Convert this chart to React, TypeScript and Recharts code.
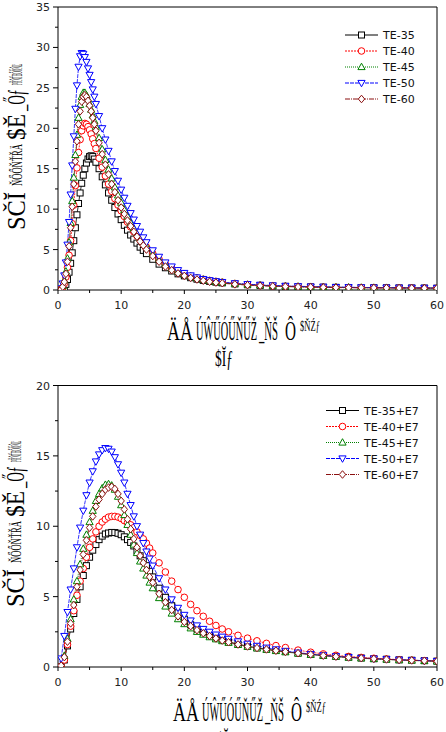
import React from 'react';
import { LineChart, Line, XAxis, YAxis, ReferenceLine } from 'recharts';

// upper panel: shared x grid and one series per sample
const TOP_X = [
  0, 0.25, 0.5, 0.75, 1, 1.25, 1.5, 1.75, 2, 2.25, 2.5, 2.75, 3, 3.25, 3.5, 3.75, 4, 4.25, 4.5, 4.75, 5, 5.25, 5.5, 5.75, 6,
  6.5, 7, 7.5, 8, 8.5, 9, 9.5, 10, 10.5, 11, 11.5, 12, 12.5, 13, 13.5, 14,
  15, 16, 17, 18, 19, 20, 21, 22, 23, 24, 25, 26,
  28, 30, 32, 34, 36, 38, 40, 42, 44, 46, 48, 50, 52, 54, 56, 58, 60,
];
const TE35 = [
  0, 0, 0, 0.1, 0.3, 0.7, 1.3, 2.2, 3.3, 4.6, 6.1, 7.7, 9.3, 10.7, 12.0, 13.2, 14.2, 15.0, 15.7, 16.2, 16.5, 16.6, 16.5, 16.2, 15.8,
  15.0, 14.0, 13.0, 12.0, 11.1, 10.2, 9.4, 8.7, 8.0, 7.4, 6.8, 6.3, 5.8, 5.3, 4.9, 4.5,
  3.8, 3.2, 2.75, 2.35, 2.0, 1.75, 1.52, 1.34, 1.19, 1.07, 0.97, 0.88,
  0.75, 0.65, 0.57, 0.5, 0.45, 0.41, 0.38, 0.35, 0.33, 0.31, 0.29, 0.28, 0.27, 0.26, 0.25, 0.24, 0.23,
];
const TE40 = [
  0, 0, 0.1, 0.3, 0.8, 1.6, 2.8, 4.3, 6.1, 8.2, 10.5, 12.9, 15.1, 17.0, 18.6, 19.7, 20.3, 20.6, 20.5, 20.2, 19.8, 19.3, 18.7, 18.1, 17.5,
  16.3, 15.2, 14.1, 13.1, 12.2, 11.3, 10.5, 9.8, 9.1, 8.4, 7.8, 7.2, 6.7, 6.2, 5.7, 5.3,
  4.5, 3.8, 3.2, 2.7, 2.3, 1.95, 1.7, 1.5, 1.32, 1.18, 1.06, 0.96,
  0.8, 0.68, 0.59, 0.52, 0.47, 0.43, 0.39, 0.36, 0.33, 0.31, 0.3, 0.28, 0.27, 0.26, 0.25, 0.24, 0.23,
];
const TE45 = [
  0, 0, 0.1, 0.5, 1.2, 2.3, 3.9, 5.9, 8.3, 11.0, 13.9, 16.7, 19.2, 21.3, 22.9, 23.9, 24.4, 24.4, 24.1, 23.6, 23.0, 22.3, 21.6, 20.9, 20.2,
  18.8, 17.4, 16.1, 14.9, 13.8, 12.7, 11.7, 10.8, 9.9, 9.1, 8.3, 7.6, 7.0, 6.4, 5.9, 5.4,
  4.5, 3.8, 3.2, 2.7, 2.3, 1.95, 1.7, 1.48, 1.3, 1.15, 1.03, 0.93,
  0.78, 0.67, 0.58, 0.52, 0.47, 0.43, 0.4, 0.37, 0.34, 0.32, 0.3, 0.29, 0.28, 0.27, 0.26, 0.25, 0.24,
];
const TE50 = [
  0, 0, 0.2, 0.8, 1.8, 3.4, 5.6, 8.4, 11.8, 15.4, 19.0, 22.4, 25.3, 27.6, 28.9, 29.3, 29.2, 28.8, 28.2, 27.4, 26.6, 25.7, 24.8, 23.9, 23.0,
  21.5, 20.0, 18.6, 17.2, 15.9, 14.7, 13.5, 12.4, 11.4, 10.4, 9.5, 8.7, 7.9, 7.2, 6.5, 5.9,
  4.9, 4.1, 3.4, 2.9, 2.45, 2.1, 1.8, 1.55, 1.35, 1.2, 1.08, 0.98,
  0.83, 0.72, 0.63, 0.56, 0.5, 0.46, 0.42, 0.39, 0.36, 0.34, 0.32, 0.3, 0.29, 0.28, 0.27, 0.26, 0.25,
];
const TE60 = [
  0, 0, 0.1, 0.4, 1.0, 2.0, 3.5, 5.4, 7.7, 10.3, 13.1, 15.9, 18.4, 20.5, 22.1, 23.3, 23.9, 24.1, 23.9, 23.4, 22.8, 22.1, 21.3, 20.5, 19.7,
  18.2, 16.8, 15.5, 14.3, 13.1, 12.1, 11.1, 10.2, 9.4, 8.6, 7.9, 7.2, 6.6, 6.0, 5.5, 5.0,
  4.2, 3.5, 2.9, 2.45, 2.05, 1.75, 1.5, 1.3, 1.15, 1.02, 0.92, 0.84,
  0.7, 0.6, 0.52, 0.46, 0.42, 0.38, 0.35, 0.32, 0.3, 0.28, 0.27, 0.26, 0.25, 0.24, 0.23, 0.22, 0.21,
];

// lower panel (+E7 samples)
const BOT_X = [
  0, 0.5, 1, 1.5, 2, 2.5, 3, 3.5, 4, 4.5, 5, 5.5, 6, 6.5, 7, 7.5, 8, 8.5, 9, 9.5, 10, 10.5, 11, 11.5, 12, 12.5, 13, 13.5, 14, 14.5, 15,
  16, 17, 18, 19, 20, 21, 22, 23, 24, 25, 26, 27,
  28.5, 30, 31.5, 33, 34.5, 36, 38, 40, 42, 44, 46, 48, 50, 52, 54, 56, 58, 60,
];
const TE35_E7 = [
  0, 0, 0.5, 1.5, 2.7, 3.8, 4.8, 5.7, 6.5, 7.2, 7.8, 8.3, 8.7, 9.05, 9.3, 9.45, 9.52, 9.56, 9.55, 9.5, 9.4, 9.25, 9.05, 8.85, 8.6, 8.25, 7.9, 7.55, 7.2, 6.8, 6.4,
  5.6, 4.95, 4.35, 3.85, 3.4, 3.0, 2.7, 2.45, 2.25, 2.07, 1.92, 1.79,
  1.62, 1.48, 1.36, 1.26, 1.17, 1.09, 0.99, 0.9, 0.82, 0.75, 0.69, 0.64, 0.59, 0.55, 0.51, 0.48, 0.45, 0.42,
];
const TE40_E7 = [
  0, 0, 0.5, 1.6, 2.9, 4.0, 5.1, 6.1, 7.0, 7.8, 8.5, 9.1, 9.6, 10.0, 10.3, 10.5, 10.65, 10.7, 10.7, 10.65, 10.55, 10.4, 10.25, 10.1, 9.9, 9.6, 9.35, 9.1, 8.8, 8.45, 8.1,
  7.4, 6.75, 6.1, 5.5, 4.95, 4.45, 4.0, 3.6, 3.25, 2.95, 2.7, 2.5,
  2.25, 2.05, 1.86, 1.68, 1.52, 1.38, 1.2, 1.05, 0.93, 0.83, 0.75, 0.68, 0.62, 0.57, 0.52, 0.48, 0.45, 0.42,
];
const TE45_E7 = [
  0, 0.1, 0.8, 2.0, 3.4, 4.8, 6.1, 7.3, 8.4, 9.4, 10.3, 11.1, 11.8, 12.3, 12.7, 12.95, 13.0, 12.9, 12.6, 12.1, 11.5, 10.8, 10.1, 9.4, 8.7, 8.1, 7.5, 7.0, 6.5, 6.0, 5.6,
  4.9, 4.3, 3.8, 3.4, 3.05, 2.75, 2.5, 2.3, 2.12, 1.97, 1.84, 1.72,
  1.57, 1.44, 1.33, 1.23, 1.14, 1.06, 0.96, 0.87, 0.8, 0.73, 0.67, 0.62, 0.57, 0.53, 0.49, 0.46, 0.43, 0.4,
];
const TE50_E7 = [
  0, 0.6, 2.2, 3.9, 5.5, 7.0, 8.5, 9.9, 11.1, 12.2, 13.1, 13.9, 14.6, 15.1, 15.4, 15.55, 15.5, 15.3, 14.9, 14.4, 13.8, 13.1, 12.3, 11.5, 10.7, 10.0, 9.4, 8.8, 8.2, 7.7, 7.2,
  6.3, 5.5, 4.8, 4.2, 3.7, 3.3, 2.95, 2.7, 2.5, 2.3, 2.15, 2.0,
  1.82, 1.65, 1.5, 1.37, 1.25, 1.14, 1.02, 0.92, 0.83, 0.76, 0.7, 0.64, 0.59, 0.55, 0.51, 0.48, 0.45, 0.42,
];
const TE60_E7 = [
  0, 0.1, 0.7, 1.8, 3.1, 4.4, 5.7, 6.9, 8.0, 9.0, 9.9, 10.7, 11.4, 11.9, 12.3, 12.6, 12.75, 12.8, 12.65, 12.3, 11.8, 11.2, 10.5, 9.8, 9.1, 8.5, 7.9, 7.4, 6.9, 6.4, 6.0,
  5.2, 4.6, 4.05, 3.6, 3.2, 2.9, 2.62, 2.4, 2.2, 2.03, 1.88, 1.76,
  1.6, 1.46, 1.35, 1.25, 1.16, 1.08, 0.98, 0.89, 0.81, 0.74, 0.68, 0.63, 0.58, 0.54, 0.5, 0.47, 0.44, 0.41,
];

const TOP_NAMES = ['TE-35', 'TE-40', 'TE-45', 'TE-50', 'TE-60'];
const BOT_NAMES = ['TE-35+E7', 'TE-40+E7', 'TE-45+E7', 'TE-50+E7', 'TE-60+E7'];

const X_TICKS = [0, 5, 10, 15, 20, 25, 30, 35, 40, 45, 50, 55, 60];
const TOP_Y_TICKS = [0, 2.5, 5, 7.5, 10, 12.5, 15, 17.5, 20, 22.5, 25, 27.5, 30, 32.5, 35];
const BOT_Y_TICKS = [0, 2.5, 5, 7.5, 10, 12.5, 15, 17.5, 20];

type Shape = 'square' | 'circle' | 'up' | 'down' | 'diamond';
const STYLES: { color: string; dash?: string; shape: Shape }[] = [
  { color: '#000000', shape: 'square' },
  { color: '#ff0000', dash: '2 1', shape: 'circle' },
  { color: '#008000', dash: '1 1', shape: 'up' },
  { color: '#0000ff', dash: '4 1', shape: 'down' },
  { color: '#8b1010', dash: '5 1 1 1', shape: 'diamond' },
];

const TICK_FONT = '"DejaVu Sans", sans-serif';
const TITLE_FONT = '"Liberation Serif", serif';

const buildRows = (xs: number[], series: number[][]) =>
  xs.map((x, i) => {
    const row: Record<string, number> = { x };
    series.forEach((s, k) => {
      row[`s${k}`] = s[i];
    });
    return row;
  });

const TOP_ROWS = buildRows(TOP_X, [TE35, TE40, TE45, TE50, TE60]);
const BOT_ROWS = buildRows(BOT_X, [TE35_E7, TE40_E7, TE45_E7, TE50_E7, TE60_E7]);

function Marker({ shape, cx, cy, color }: { shape: Shape; cx: number; cy: number; color: string }) {
  const common = { fill: '#fff', stroke: color, strokeWidth: 1 };
  switch (shape) {
    case 'square':
      return <rect x={cx - 3} y={cy - 3} width={6} height={6} {...common} />;
    case 'circle':
      return <circle cx={cx} cy={cy} r={3.3} {...common} />;
    case 'up':
      return <polygon points={`${cx},${cy - 3.8} ${cx + 3.6},${cy + 2.6} ${cx - 3.6},${cy + 2.6}`} {...common} />;
    case 'down':
      return <polygon points={`${cx},${cy + 3.8} ${cx + 3.6},${cy - 2.6} ${cx - 3.6},${cy - 2.6}`} {...common} />;
    default:
      return <polygon points={`${cx},${cy - 3.8} ${cx + 3.2},${cy} ${cx},${cy + 3.8} ${cx - 3.2},${cy}`} {...common} />;
  }
}

const LeftTick = (p: any) => {
  const v = p.payload.value;
  const major = v % 5 === 0;
  return (
    <g>
      <line x1={p.x} y1={p.y} x2={p.x - (major ? 5 : 3)} y2={p.y} stroke="#000" />
      {major && (
        <text x={p.x - 8} y={p.y + 4} textAnchor="end" fontSize={11} fill="#222" fontFamily={TICK_FONT}>
          {v}
        </text>
      )}
    </g>
  );
};

const RightTick = (p: any) => {
  const major = p.payload.value % 5 === 0;
  return <line x1={p.x} y1={p.y} x2={p.x - (major ? 4 : 3)} y2={p.y} stroke="#000" />;
};

const BottomTick = (p: any) => {
  const v = p.payload.value;
  const major = v % 10 === 0;
  return (
    <g>
      <line x1={p.x} y1={p.y} x2={p.x} y2={p.y + (major ? 4 : 3)} stroke="#000" />
      {major && (
        <text x={p.x} y={p.y + 19} textAnchor="middle" fontSize={11} fill="#222" fontFamily={TICK_FONT}>
          {v}
        </text>
      )}
    </g>
  );
};

function Panel({ rows, yMax, yTicks, top, height, marginTop, xHeight }: {
  rows: Record<string, number>[];
  yMax: number;
  yTicks: number[];
  top: number;
  height: number;
  marginTop: number;
  xHeight: number;
}) {
  return (
    <div style={{ position: 'absolute', left: 0, top, width: 446, height }}>
      <LineChart width={446} height={height} data={rows} margin={{ top: marginTop, right: 8, bottom: 0, left: 0 }}>
        <XAxis
          dataKey="x"
          type="number"
          domain={[0, 60]}
          ticks={X_TICKS}
          interval={0}
          height={xHeight}
          tickSize={0}
          tickMargin={0}
          tickLine={false}
          axisLine={{ stroke: '#000' }}
          tick={(p: any) => <BottomTick {...p} />}
          allowDataOverflow
        />
        <YAxis
          yAxisId="l"
          type="number"
          domain={[0, yMax]}
          ticks={yTicks}
          interval={0}
          width={58}
          tickSize={0}
          tickMargin={0}
          tickLine={false}
          axisLine={{ stroke: '#000' }}
          tick={(p: any) => <LeftTick {...p} />}
          allowDataOverflow
        />
        <YAxis
          yAxisId="r"
          orientation="right"
          type="number"
          domain={[0, yMax]}
          ticks={yTicks}
          interval={0}
          width={1}
          tickSize={0}
          tickMargin={0}
          tickLine={false}
          axisLine={{ stroke: '#000' }}
          tick={(p: any) => <RightTick {...p} />}
        />
        <ReferenceLine yAxisId="l" y={yMax} stroke="#000" />
        {STYLES.map((st, k) => (
          <Line
            key={k}
            yAxisId="l"
            type="linear"
            dataKey={`s${k}`}
            stroke={st.color}
            strokeWidth={0.8}
            strokeDasharray={st.dash}
            dot={(p: any) =>
              p.cx == null ? <g key={p.index} /> : <Marker key={p.index} shape={st.shape} cx={p.cx} cy={p.cy} color={st.color} />
            }
            activeDot={false}
            isAnimationActive={false}
          />
        ))}
      </LineChart>
    </div>
  );
}

function Legend({ names, top, x0 }: { names: string[]; top: number; x0: number }) {
  return (
    <g>
      {names.map((n, k) => {
        const y = top + k * 16;
        const st = STYLES[k];
        return (
          <g key={n}>
            <line x1={x0} y1={y} x2={x0 + 33} y2={y} stroke={st.color} strokeWidth={1} strokeDasharray={st.dash} />
            <Marker shape={st.shape} cx={x0 + 16.5} cy={y} color={st.color} />
            <text x={x0 + 38} y={y + 4} fontSize={11} fill="#111" fontFamily={TICK_FONT}>
              {n}
            </text>
          </g>
        );
      })}
    </g>
  );
}

// condensed serif title pieces: [text, x, width, font size, cap height, baseline shift]
type Piece = [string, number, number, number, number, number];

const X_TITLE: Piece[] = [
  ['ÄÅ', 0, 26, 18, 18, 0],
  ['ÚŴŰÓŰŇŰŽ', 29, 61, 10.4, 18, 0],
  ['_ŇŠ', 92, 19, 10.7, 18, 0],
  ['Ô', 118, 11, 15, 18, 0],
  ['$ŇŹƒ', 133, 20, 8.6, 10, -9],
];

const X_TITLE_2: Piece[] = [['$Ĭƒ', 0, 18, 13.5, 15, 0]];

const Y_TITLE: Piece[] = [
  ['SČĬ', 0, 38, 24, 16, 0],
  ['ŇŐŐŇŤŘÄ', 44, 42, 8.6, 9, -3],
  ['$Ě', 90, 26, 23, 16, 0],
  ['_Őƒ', 119, 22, 12.8, 16, 0],
  ['PŘŇŤBŐŐŇĽ', 145, 21, 3.5, 9, -3],
];

// each piece is set at a narrow size and stretched upward to its cap height
function Title({ pieces, transform }: { pieces: Piece[]; transform: string }) {
  return (
    <g transform={transform}>
      {pieces.map(([t, x, len, size, cap, dy]) => (
        <text
          key={t}
          transform={`translate(${x},${dy}) scale(1,${(cap / (0.662 * size)).toFixed(3)})`}
          fontSize={size}
          fontFamily={TITLE_FONT}
          fill="#000"
          textLength={len}
          lengthAdjust="spacingAndGlyphs"
        >
          {t}
        </text>
      ))}
    </g>
  );
}

export default function App() {
  return (
    <div style={{ position: 'absolute', left: 0, top: 0, width: 446, height: 732, background: '#fff', overflow: 'hidden' }}>
      <Panel rows={TOP_ROWS} yMax={35} yTicks={TOP_Y_TICKS} top={0} height={320} marginTop={7} xHeight={30} />
      <Panel rows={BOT_ROWS} yMax={20} yTicks={BOT_Y_TICKS} top={365} height={340} marginTop={20.5} xHeight={38} />
      <svg width={446} height={732} style={{ position: 'absolute', left: 0, top: 0, pointerEvents: 'none' }}>
        <Legend names={TOP_NAMES} top={35} x0={345} />
        <Legend names={BOT_NAMES} top={410.5} x0={326} />
        <Title pieces={X_TITLE} transform="translate(167,340)" />
        <Title pieces={X_TITLE_2} transform="translate(215,366)" />
        <Title pieces={Y_TITLE} transform="translate(25,230) rotate(-90)" />
        <Title pieces={X_TITLE} transform="translate(173,721)" />
        <Title pieces={X_TITLE_2} transform="translate(217,748)" />
        <Title pieces={Y_TITLE} transform="translate(24,607) rotate(-90)" />
      </svg>
    </div>
  );
}
